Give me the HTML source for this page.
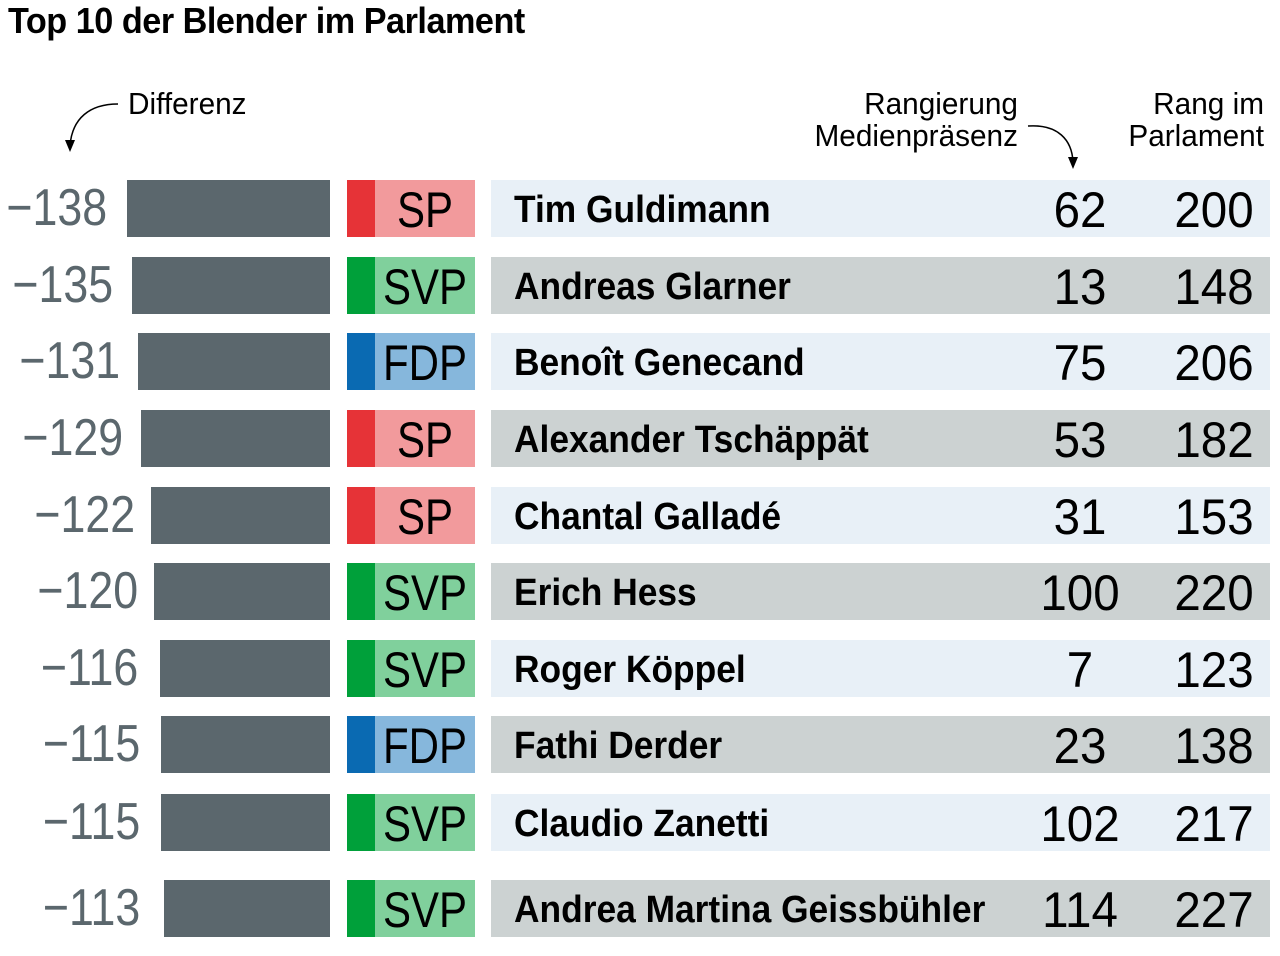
<!DOCTYPE html>
<html><head><meta charset="utf-8"><style>
body{margin:0;width:1280px;height:956px;background:#fff;position:relative;overflow:hidden;font-family:"Liberation Sans Narrow","Liberation Sans",sans-serif;}
.a{position:absolute}
.t{left:8px;top:0px;font-weight:bold;font-size:36px;color:#000;letter-spacing:-0.5px;transform:scaleX(0.95);transform-origin:left}
.h{font-size:31px;line-height:32px;color:#000;transform:scaleX(0.96);transform-origin:right}
.row{position:absolute;left:0;width:1280px;height:57px}
.lab{position:absolute;right:0;top:0;height:57px;line-height:57px;font-size:52px;color:#5b676d;text-align:right;transform:scaleX(0.86);transform-origin:right}
.bar{position:absolute;top:0;height:57px;background:#5b676d;right:950px}
.pc{position:absolute;left:347px;width:28px;top:0;height:57px}
.pl{position:absolute;left:375px;width:100px;top:0;height:57px;}
.pl span{position:absolute;left:0;width:100px;font-size:50px;line-height:60px;text-align:center;color:#000;transform:scaleX(0.84)}
.bg{position:absolute;left:491px;width:779px;top:0;height:57px}
.nm{position:absolute;left:514px;top:2px;line-height:57px;font-size:38px;font-weight:bold;color:#000;transform:scaleX(0.93);transform-origin:left;white-space:nowrap}
.n1,.n2{position:absolute;top:0;line-height:60px;font-size:50px;color:#000;text-align:center;width:120px;transform:scaleX(0.95)}
.n1{left:1020px}.n2{left:1154px}
.L{background:#e8f0f7}.G{background:#ccd2d2}
.sp1{background:#e63337}.sp2{background:#f29a9c}
.sv1{background:#00a03a}.sv2{background:#80d09c}
.fd1{background:#0a6ab2}.fd2{background:#86b7dc}
</style></head><body>
<div class="a t">Top 10 der Blender im Parlament</div>
<div class="a h" style="left:128px;top:88px;transform-origin:left">Differenz</div>
<div class="a h" style="left:800px;top:88px;width:218px;text-align:right">Rangierung<br>Medienpräsenz</div>
<div class="a h" style="left:1100px;top:88px;width:164px;text-align:right">Rang im<br>Parlament</div>
<svg class="a" style="left:0;top:0" width="1280" height="180">
<path d="M118,104 C90,104 72,118 70,146" fill="none" stroke="#000" stroke-width="1.5"/>
<path d="M65,140 L70,152 L75,140 Z" fill="#000"/>
<path d="M1028,126 C1058,124 1072,140 1073,162" fill="none" stroke="#000" stroke-width="1.5"/>
<path d="M1068,157 L1073,169 L1078,157 Z" fill="#000"/>
</svg>

<div class="row" style="top:180px"><div class="lab" style="right:1173px">−138</div><div class="bar" style="left:127px"></div><div class="pc sp1"></div><div class="pl sp2"><span>SP</span></div><div class="bg L"></div><div class="nm">Tim Guldimann</div><div class="n1">62</div><div class="n2">200</div></div>
<div class="row" style="top:257px"><div class="lab" style="right:1167px">−135</div><div class="bar" style="left:132px"></div><div class="pc sv1"></div><div class="pl sv2"><span>SVP</span></div><div class="bg G"></div><div class="nm">Andreas Glarner</div><div class="n1">13</div><div class="n2">148</div></div>
<div class="row" style="top:333px"><div class="lab" style="right:1160px">−131</div><div class="bar" style="left:138px"></div><div class="pc fd1"></div><div class="pl fd2"><span>FDP</span></div><div class="bg L"></div><div class="nm">Benoît Genecand</div><div class="n1">75</div><div class="n2">206</div></div>
<div class="row" style="top:410px"><div class="lab" style="right:1157px">−129</div><div class="bar" style="left:141px"></div><div class="pc sp1"></div><div class="pl sp2"><span>SP</span></div><div class="bg G"></div><div class="nm">Alexander Tschäppät</div><div class="n1">53</div><div class="n2">182</div></div>
<div class="row" style="top:487px"><div class="lab" style="right:1145px">−122</div><div class="bar" style="left:151px"></div><div class="pc sp1"></div><div class="pl sp2"><span>SP</span></div><div class="bg L"></div><div class="nm">Chantal Galladé</div><div class="n1">31</div><div class="n2">153</div></div>
<div class="row" style="top:563px"><div class="lab" style="right:1142px">−120</div><div class="bar" style="left:154px"></div><div class="pc sv1"></div><div class="pl sv2"><span>SVP</span></div><div class="bg G"></div><div class="nm">Erich Hess</div><div class="n1">100</div><div class="n2">220</div></div>
<div class="row" style="top:640px"><div class="lab" style="right:1142px">−116</div><div class="bar" style="left:160px"></div><div class="pc sv1"></div><div class="pl sv2"><span>SVP</span></div><div class="bg L"></div><div class="nm">Roger Köppel</div><div class="n1">7</div><div class="n2">123</div></div>
<div class="row" style="top:716px"><div class="lab" style="right:1140px">−115</div><div class="bar" style="left:161px"></div><div class="pc fd1"></div><div class="pl fd2"><span>FDP</span></div><div class="bg G"></div><div class="nm">Fathi Derder</div><div class="n1">23</div><div class="n2">138</div></div>
<div class="row" style="top:794px"><div class="lab" style="right:1140px">−115</div><div class="bar" style="left:161px"></div><div class="pc sv1"></div><div class="pl sv2"><span>SVP</span></div><div class="bg L"></div><div class="nm">Claudio Zanetti</div><div class="n1">102</div><div class="n2">217</div></div>
<div class="row" style="top:880px"><div class="lab" style="right:1140px">−113</div><div class="bar" style="left:164px"></div><div class="pc sv1"></div><div class="pl sv2"><span>SVP</span></div><div class="bg G"></div><div class="nm">Andrea Martina Geissbühler</div><div class="n1">114</div><div class="n2">227</div></div>
</body></html>
